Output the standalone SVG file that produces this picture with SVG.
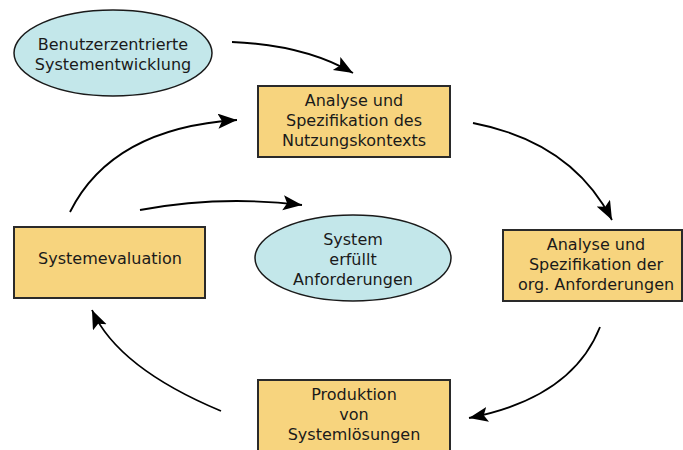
<svg xmlns="http://www.w3.org/2000/svg" width="683" height="450" viewBox="0 0 683 450">
<style>
.box{fill:#F7D47E;stroke:#2a2a2a;stroke-width:2}
.ell{fill:#C3E7EA;stroke:#1a1a1a;stroke-width:1.5}
.t{font-family:"DejaVu Sans",Verdana,sans-serif;font-size:16px;fill:#1a1a1a;text-anchor:middle}
.c{fill:none;stroke:#000;stroke-width:1.8}
</style>
<defs>
<marker id="ah" markerUnits="userSpaceOnUse" markerWidth="22" markerHeight="16" refX="19" refY="7.5" orient="auto">
<path d="M0,0 L19,7.5 L0,15 L4,7.5 z" fill="#000"/>
</marker>
</defs>
<rect width="683" height="450" fill="#fff"/>
<g id="connectors">
<path class="c" d="M232,42 Q305,45 353,73" marker-end="url(#ah)"/>
<path class="c" d="M473,123 Q572,142 612,220" marker-end="url(#ah)"/>
<path class="c" d="M600,327 Q572,398 469,418" marker-end="url(#ah)"/>
<path class="c" d="M221,411 Q118,368 92,310" marker-end="url(#ah)"/>
<path class="c" d="M70,212 Q112,128 237,120" marker-end="url(#ah)"/>
<path class="c" d="M140,210 Q220,195 302,205" marker-end="url(#ah)"/>
</g>
<g id="n-benutzer">
<ellipse class="ell" cx="113" cy="53" rx="99" ry="43"/>
<text class="t" x="113" y="50">Benutzerzentrierte</text>
<text class="t" x="113" y="70">Systementwicklung</text>
</g>
<g id="n-nutzungskontext">
<rect class="box" x="258" y="86" width="192" height="71"/>
<text class="t" x="354" y="106">Analyse und</text>
<text class="t" x="354" y="126">Spezifikation des</text>
<text class="t" x="354" y="146">Nutzungskontexts</text>
</g>
<g id="n-org">
<rect class="box" x="503" y="230" width="179" height="71"/>
<text class="t" x="596" y="250">Analyse und</text>
<text class="t" x="596" y="270">Spezifikation der</text>
<text class="t" x="596" y="290">org. Anforderungen</text>
</g>
<g id="n-produktion">
<rect class="box" x="258" y="380" width="192" height="80"/>
<text class="t" x="354" y="400">Produktion</text>
<text class="t" x="354" y="420">von</text>
<text class="t" x="354" y="440">Systemlösungen</text>
</g>
<g id="n-evaluation">
<rect class="box" x="14" y="227" width="191" height="71"/>
<text class="t" x="110" y="264">Systemevaluation</text>
</g>
<g id="n-erfuellt">
<ellipse class="ell" cx="353" cy="258" rx="98" ry="43"/>
<text class="t" x="353" y="245">System</text>
<text class="t" x="353" y="265">erfüllt</text>
<text class="t" x="353" y="285">Anforderungen</text>
</g>
</svg>
